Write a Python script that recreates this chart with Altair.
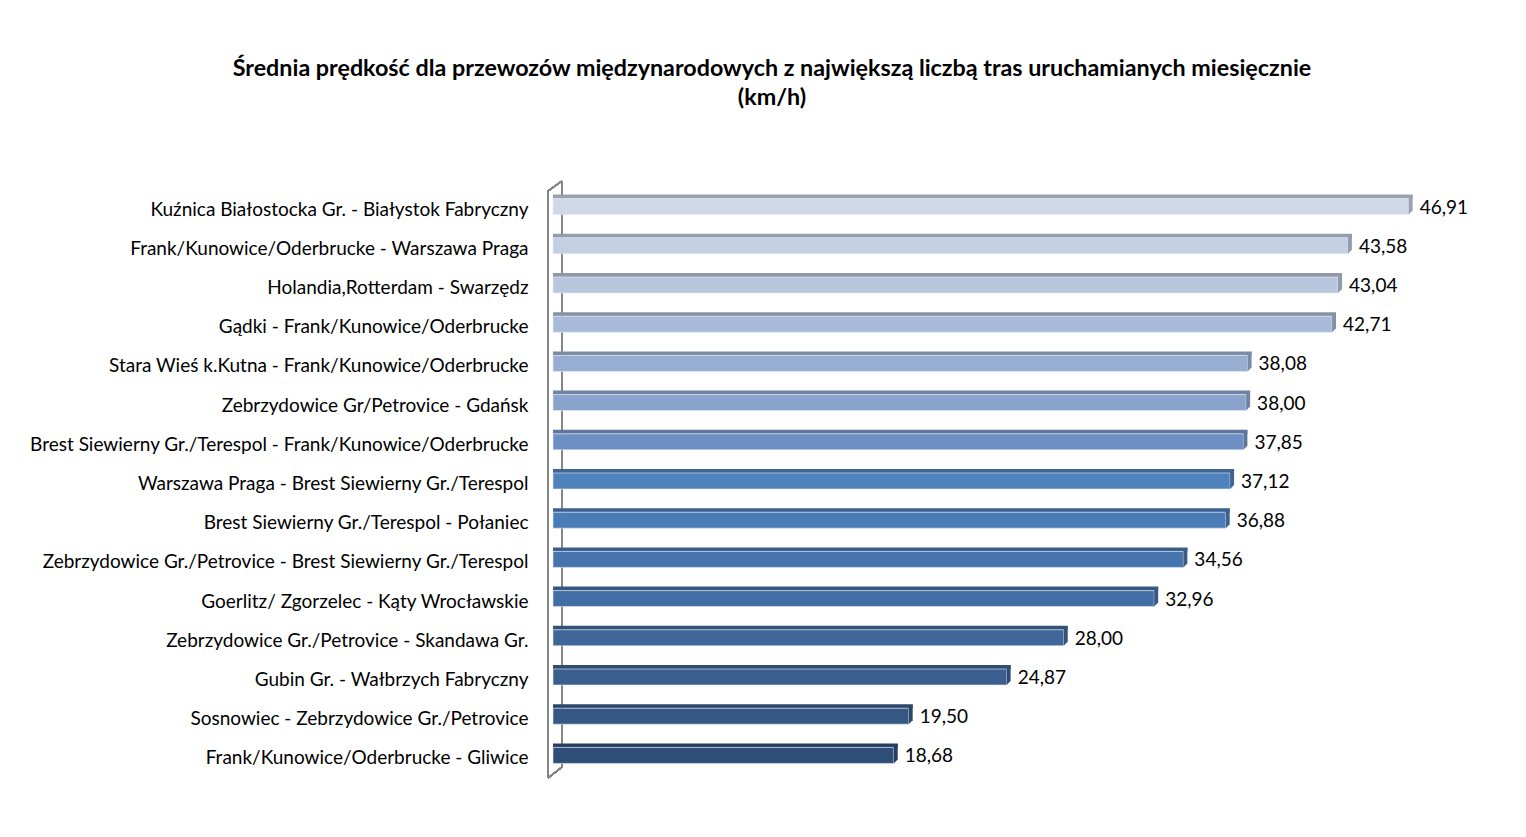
import altair as alt
import pandas as pd

routes = [
    "Kuźnica Białostocka Gr. - Białystok Fabryczny",
    "Frank/Kunowice/Oderbrucke - Warszawa Praga",
    "Holandia,Rotterdam - Swarzędz",
    "Gądki - Frank/Kunowice/Oderbrucke",
    "Stara Wieś k.Kutna - Frank/Kunowice/Oderbrucke",
    "Zebrzydowice Gr/Petrovice - Gdańsk",
    "Brest Siewierny Gr./Terespol - Frank/Kunowice/Oderbrucke",
    "Warszawa Praga - Brest Siewierny Gr./Terespol",
    "Brest Siewierny Gr./Terespol - Połaniec",
    "Zebrzydowice Gr./Petrovice - Brest Siewierny Gr./Terespol ",
    "Goerlitz/ Zgorzelec - Kąty Wrocławskie",
    "Zebrzydowice Gr./Petrovice - Skandawa Gr.",
    "Gubin Gr. - Wałbrzych Fabryczny",
    "Sosnowiec - Zebrzydowice Gr./Petrovice",
    "Frank/Kunowice/Oderbrucke - Gliwice",
]
speeds = [46.91, 43.58, 43.04, 42.71, 38.08, 38.00, 37.85, 37.12, 36.88,
          34.56, 32.96, 28.00, 24.87, 19.50, 18.68]
front_colors = ["#D0D8E8", "#C3CFE3", "#B8C6DE", "#A9BAD8", "#98ADD2", "#8AA3CD",
                "#6E8FC4", "#4F81BD", "#4A7CB8", "#4675AE", "#426EA5", "#3E6698",
                "#3A5F8E", "#365784", "#2E4D78"]
top_colors = ["#9AA2AF", "#949DAC", "#8F99AA", "#8592A6", "#7A8BA5", "#6F84A3",
              "#5E759C", "#3F6594", "#3B6190", "#395C89", "#365782", "#335179",
              "#304C72", "#2D476A", "#263E60"]

df = pd.DataFrame({"route": routes, "speed": speeds,
                   "front": front_colors, "top": top_colors})

W, H = 912, 588
FONT = "Lato"

y_enc = alt.Y("route:N", sort=routes, title=None,
              scale=alt.Scale(paddingInner=0, paddingOuter=0),
              axis=alt.Axis(labelFont=FONT, labelFontSize=19, labelColor="#000000",
                            labelPadding=25, labelOffset=3, ticks=False, domain=False,
                            labelLimit=700))
x_enc = alt.X("speed:Q", scale=alt.Scale(domain=[0, 50]), axis=None)

base = alt.Chart(df)

# 3D wall lines
wall_back = base.mark_rule(color="#868686", strokeWidth=1.5).encode(
    x=alt.value(9), y=alt.value(-6), y2=alt.value(580))
wall_front = base.mark_rule(color="#868686", strokeWidth=1.5).encode(
    x=alt.value(-5), y=alt.value(4), y2=alt.value(591))
wall_top = base.mark_rule(color="#868686", strokeWidth=1.5).encode(
    x=alt.value(-5), x2=alt.value(9), y=alt.value(4), y2=alt.value(-6))
wall_bot = base.mark_rule(color="#868686", strokeWidth=1.5).encode(
    x=alt.value(-5), x2=alt.value(9), y=alt.value(591), y2=alt.value(580))

top_face = base.mark_bar(height=4, yOffset=-10, xOffset=4).encode(
    y=y_enc, x=x_enc, x2=alt.datum(0),
    color=alt.Color("top:N", scale=None))
front_face = base.mark_bar(height=16, stroke="#E6ECF5", strokeWidth=0.6).encode(
    y=y_enc, x=x_enc, x2=alt.datum(0),
    color=alt.Color("front:N", scale=None))
side_path = "M0,-0.667 L0.333,-1 L0.333,0.333 L0,0.667 Z"
side_face = base.mark_point(shape=side_path, size=576, filled=True, opacity=1,
                            strokeWidth=0).encode(
    y=y_enc, x=x_enc, color=alt.Color("top:N", scale=None))
labels = base.mark_text(align="left", baseline="middle", dx=11, dy=1,
                        font=FONT, fontSize=19, color="#000000").encode(
    y=y_enc, x=x_enc,
    text=alt.Text("lab:N")).transform_calculate(
    lab="replace(format(datum.speed, '.2f'), '.', ',')")

chart = alt.layer(wall_back, top_face, front_face, side_face, labels,
                  wall_front, wall_top, wall_bot).properties(
    width=W, height=H,
    autosize=alt.AutoSizeParams(type="none"),
    padding={"left": 545, "top": 179, "right": 50, "bottom": 50},
    title=alt.TitleParams(
        ["Średnia prędkość dla przewozów międzynarodowych z największą liczbą tras uruchamianych miesięcznie",
         "(km/h)"],
        font=FONT, fontSize=23.3, fontWeight="bold", color="#000000",
        anchor="middle", frame="group", dx=-237, offset=70, lineHeight=29),
).configure_view(stroke=None)

chart.save("out.html", embed_options={"renderer": "svg", "actions": False})
